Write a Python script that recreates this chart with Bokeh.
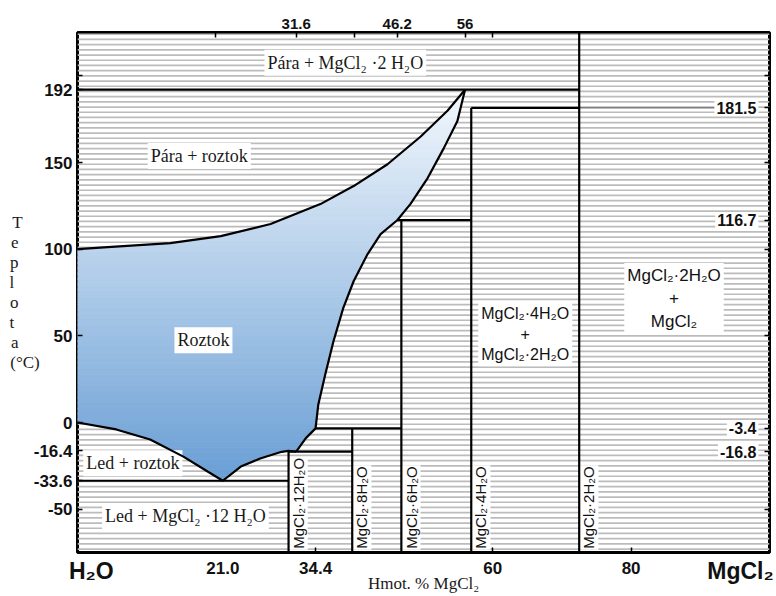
import numpy as np
from bokeh.plotting import figure
from bokeh.models import Label, LinearAxis, FixedTicker, Range1d, CustomJSTickFormatter
from bokeh.embed import file_html
from bokeh.resources import INLINE

# ---------------- data ----------------
# boiling curve: liquid / vapour+liquid
boil_x = [0.0, 3.8, 13.4, 20.7, 27.9, 35.1, 39.9, 44.8, 49.6, 53.5, 56.0]
boil_y = [100.0, 101.0, 103.5, 107.5, 114.5, 126.0, 136.4, 149.0, 165.0, 180.0, 192.0]
# solubility (liquidus) curve of the hydrates, from 56 % / 192 C downwards
liq_x = [56.0, 54.9, 52.9, 50.6, 48.1, 46.2, 43.8, 41.9, 39.9, 38.4, 37.0, 35.8, 34.8, 34.4, 33.0, 31.6]
liq_y = [192.0, 174.0, 158.0, 141.0, 126.0, 116.7, 108.7, 97.0, 81.5, 66.0, 47.0, 27.7, 10.4, -3.4, -9.0, -16.8]
# MgCl2.12H2O liquidus and ice curve, ending at H2O 0 C
frz_x = [31.6, 30.5, 29.5, 26.4, 23.6, 21.0, 18.8, 15.3, 10.5, 5.6, 0.0]
frz_y = [-16.8, -16.4, -16.9, -20.8, -25.4, -33.6, -28.3, -19.7, -9.8, -4.0, 0.0]

# invariant (horizontal) lines
h_y = [192.0, 181.5, 116.7, -3.4, -16.8, -33.6]
h_x0 = [0.0, 56.9, 46.2, 34.4, 30.5, 0.0]
h_x1 = [72.5, 72.5, 56.9, 46.8, 39.7, 30.5]
# hydrate compositions (vertical lines)
v_x = [30.5, 39.7, 46.8, 56.9, 72.5]
v_top = [-16.8, -3.4, 116.7, 181.5, 225.0]
v_names = ["MgCl₂·12H₂O", "MgCl₂·8H₂O", "MgCl₂·6H₂O", "MgCl₂·4H₂O", "MgCl₂·2H₂O"]

# axis ticks
left_ticks = [192, 150, 100, 50, 0, -16.4, -33.6, -50]
left_labels = ["192", "150", "100", "50", "0", "-16.4", "-33.6", "-50"]
right_ticks = [181.5, 116.7, -3.4, -16.8]
right_labels = ["181.5", "116.7", "-3.4", "-16.8"]
top_ticks = [31.6, 46.2, 56]
top_labels = ["31.6", "46.2", "56"]
end_ticks = [2.0, 95.8]
end_labels = ["H₂O", "MgCl₂"]
bottom_ticks = [21.0, 34.4, 60, 80]
bottom_labels = ["21.0", "34.4", "60", "80"]
bottom_marks = [34.4, 60, 80]

# stacked y title, letters padded (no-break spaces) so that they line up on the left
y_title = ["T", "e", "p", "l", "o", "t", "a", "(°C)"]
y_pad = [4, 5, 5, 6, 5, 6, 5, 0]

# region labels (text, x, y)
serif_regions = [
    ("Pára + MgCl₂ ·2 H₂O", 38.7, 207.5),
    ("Pára + roztok", 17.6, 153.8),
    ("Roztok", 18.2, 47.4),
    ("Led + roztok", 8.0, -23.5),
    ("Led + MgCl₂ ·12 H₂O", 15.6, -54.2),
]
sans_regions = [
    ("MgCl₂·4H₂O\n+\nMgCl₂·2H₂O", 64.7, 50.9, "16px"),
    ("MgCl₂·2H₂O\n+\nMgCl₂", 86.2, 71.7, "17px"),
]

XMIN, XMAX, YMIN, YMAX = 0, 100, -75, 225
SERIF = "Liberation Serif"
SANS = "Liberation Sans"

p = figure(width=776, height=596, x_range=Range1d(XMIN, XMAX), y_range=Range1d(YMIN, YMAX),
           output_backend="svg", toolbar_location=None,
           min_border_left=77, min_border_right=7, min_border_top=32, min_border_bottom=44)
p.grid.visible = False
p.background_fill_color = "white"
p.border_fill_color = "white"
p.outline_line_color = "black"
p.outline_line_width = 3

# ---------------- hatch background ----------------
hy = np.arange(-73.0, 225.0, 3.0)
p.segment(x0=XMIN, y0=hy, x1=XMAX, y1=hy, line_color="#bcbcbc", line_width=1.7)

# ---------------- liquid region with vertical gradient ----------------
poly = [(0.0, 0.0)] + list(zip(boil_x, boil_y)) + list(zip(liq_x[1:], liq_y[1:])) + list(zip(frz_x[1:-1], frz_y[1:-1]))


def _cross(a, b, c):
    t = (c - a[1]) / (b[1] - a[1])
    return (a[0] + t * (b[0] - a[0]), c)


def _clip(pts, keep, c):
    out = []
    for i in range(len(pts)):
        a, b = pts[i - 1], pts[i]
        ia, ib = keep(a[1]), keep(b[1])
        if ib:
            if not ia:
                out.append(_cross(a, b, c))
            out.append(b)
        elif ia:
            out.append(_cross(a, b, c))
    return out


ys_all = [q[1] for q in poly]
ylo, yhi = min(ys_all), max(ys_all)
nb = 70
edges = np.linspace(ylo, yhi, nb + 1)
top_rgb = np.array([243, 248, 253])
bot_rgb = np.array([106, 159, 213])
bxs, bys, bcols = [], [], []
for i in range(nb):
    y0, y1 = edges[i], edges[i + 1]
    band = _clip(poly, lambda y: y >= y0, y0)
    band = _clip(band, lambda y: y <= y1, y1)
    if len(band) < 3:
        continue
    t = (yhi - 0.5 * (y0 + y1)) / (yhi - ylo)
    rgb = (top_rgb + (bot_rgb - top_rgb) * t).astype(int)
    bxs.append([q[0] for q in band])
    bys.append([q[1] for q in band])
    bcols.append("#%02x%02x%02x" % tuple(rgb))
p.patches(bxs, bys, fill_color=bcols, line_color=bcols, line_width=0.8)

# ---------------- boundaries (drawn above the label boxes) ----------------
p.line(boil_x, boil_y, line_color="black", line_width=2.2, level="overlay")
p.line(liq_x, liq_y, line_color="black", line_width=2.2, level="overlay")
p.line(frz_x, frz_y, line_color="black", line_width=2.2, level="overlay")
p.segment(x0=h_x0, y0=h_y, x1=h_x1, y1=h_y, line_color="black", line_width=2.2, level="overlay")
p.segment(x0=v_x, y0=[YMIN] * len(v_x), x1=v_x, y1=v_top, line_color="black", line_width=2.2, level="overlay")
# thin leader line to the 181.5 label
p.segment(x0=[h_x1[1]], y0=[h_y[1]], x1=[97.0], y1=[h_y[1]], line_color="#555555", line_width=1)

# ---------------- axes ----------------
def fmt(vals, labs):
    return CustomJSTickFormatter(args=dict(vals=vals, labs=labs),
                                 code="const i = vals.findIndex(v => Math.abs(v - tick) < 1e-6); return i >= 0 ? labs[i] : '';")


def style(ax, size):
    ax.axis_line_color = None
    ax.major_tick_in = 5
    ax.major_tick_out = 0
    ax.minor_tick_in = 5
    ax.minor_tick_out = 0
    ax.major_tick_line_width = 1.5
    ax.minor_tick_line_width = 1.5
    ax.major_tick_line_color = "black"
    ax.minor_tick_line_color = "black"
    ax.major_label_text_font = SANS
    ax.major_label_text_font_style = "bold"
    ax.major_label_text_font_size = size
    ax.major_label_text_color = "#111111"


ly = p.yaxis[0]
ly.ticker = FixedTicker(ticks=left_ticks, minor_ticks=[200])
ly.formatter = fmt(left_ticks, left_labels)
style(ly, "17px")
ly.major_label_standoff = 5
ly.axis_label = "\n".join(ch + "\u00a0" * n for ch, n in zip(y_title, y_pad))
ly.axis_label_orientation = "horizontal"
ly.axis_label_text_font = SERIF
ly.axis_label_text_font_style = "normal"
ly.axis_label_text_font_size = "17px"
ly.axis_label_text_color = "#1a1a1a"
ly.axis_label_text_line_height = 1.05
ly.axis_label_standoff = -9

# first bottom axis: end-member names (big) plus the inner tick marks
bx = p.xaxis[0]
bx.ticker = FixedTicker(ticks=end_ticks, minor_ticks=bottom_marks)
bx.formatter = fmt(end_ticks, end_labels)
style(bx, "23px")
bx.major_tick_in = 0
bx.major_label_standoff = 5

# second bottom axis: composition numbers (moved up into the same row) and the title
bx2 = LinearAxis(ticker=FixedTicker(ticks=bottom_ticks, minor_ticks=[]), formatter=fmt(bottom_ticks, bottom_labels))
style(bx2, "17px")
bx2.major_tick_in = 0
bx2.minor_tick_in = 0
bx2.major_label_standoff = -25
bx2.axis_label = "Hmot. % MgCl₂"
bx2.axis_label_text_font = SERIF
bx2.axis_label_text_font_style = "normal"
bx2.axis_label_text_font_size = "17px"
bx2.axis_label_text_color = "#1a1a1a"
bx2.axis_label_standoff = -3
p.add_layout(bx2, "below")

tx = LinearAxis(ticker=FixedTicker(ticks=top_ticks, minor_ticks=[20, 40, 60]), formatter=fmt(top_ticks, top_labels))
style(tx, "15px")
tx.major_label_standoff = 4
p.add_layout(tx, "above")

rx = LinearAxis(ticker=FixedTicker(ticks=right_ticks, minor_ticks=[200, 150, 100, 50, -50]),
                formatter=fmt([], []))
style(rx, "1px")
rx.major_label_standoff = 0
p.add_layout(rx, "right")

# ---------------- texts inside the diagram ----------------
for txt, x, y in serif_regions:
    p.add_layout(Label(x=x, y=y, text=txt, text_font=SERIF, text_font_size="18px", text_color="#1a1a1a",
                       text_align="center", text_baseline="middle",
                       background_fill_color="white", padding=3))

for txt, x, y, fs in sans_regions:
    p.add_layout(Label(x=x, y=y, text=txt, text_font=SANS, text_font_size=fs, text_color="#111111",
                       text_align="center", text_baseline="middle",
                       background_fill_color="white", padding=3))

for vx, name in zip(v_x, v_names):
    p.add_layout(Label(x=vx + 1.4, y=-73.4, text=name, text_font=SANS, text_font_size="15px", text_color="#111111",
                       angle=90, angle_units="deg", text_align="left", text_baseline="middle",
                       background_fill_color="white", padding=1))

for val, lab in zip(right_ticks, right_labels):
    p.add_layout(Label(x=98.4, y=val, text=lab, text_font=SANS, text_font_style="bold", text_font_size="16px",
                       text_color="#111111", text_align="right", text_baseline="middle",
                       background_fill_color="white", padding=2))

open("out.html", "w").write(file_html(p, INLINE))
